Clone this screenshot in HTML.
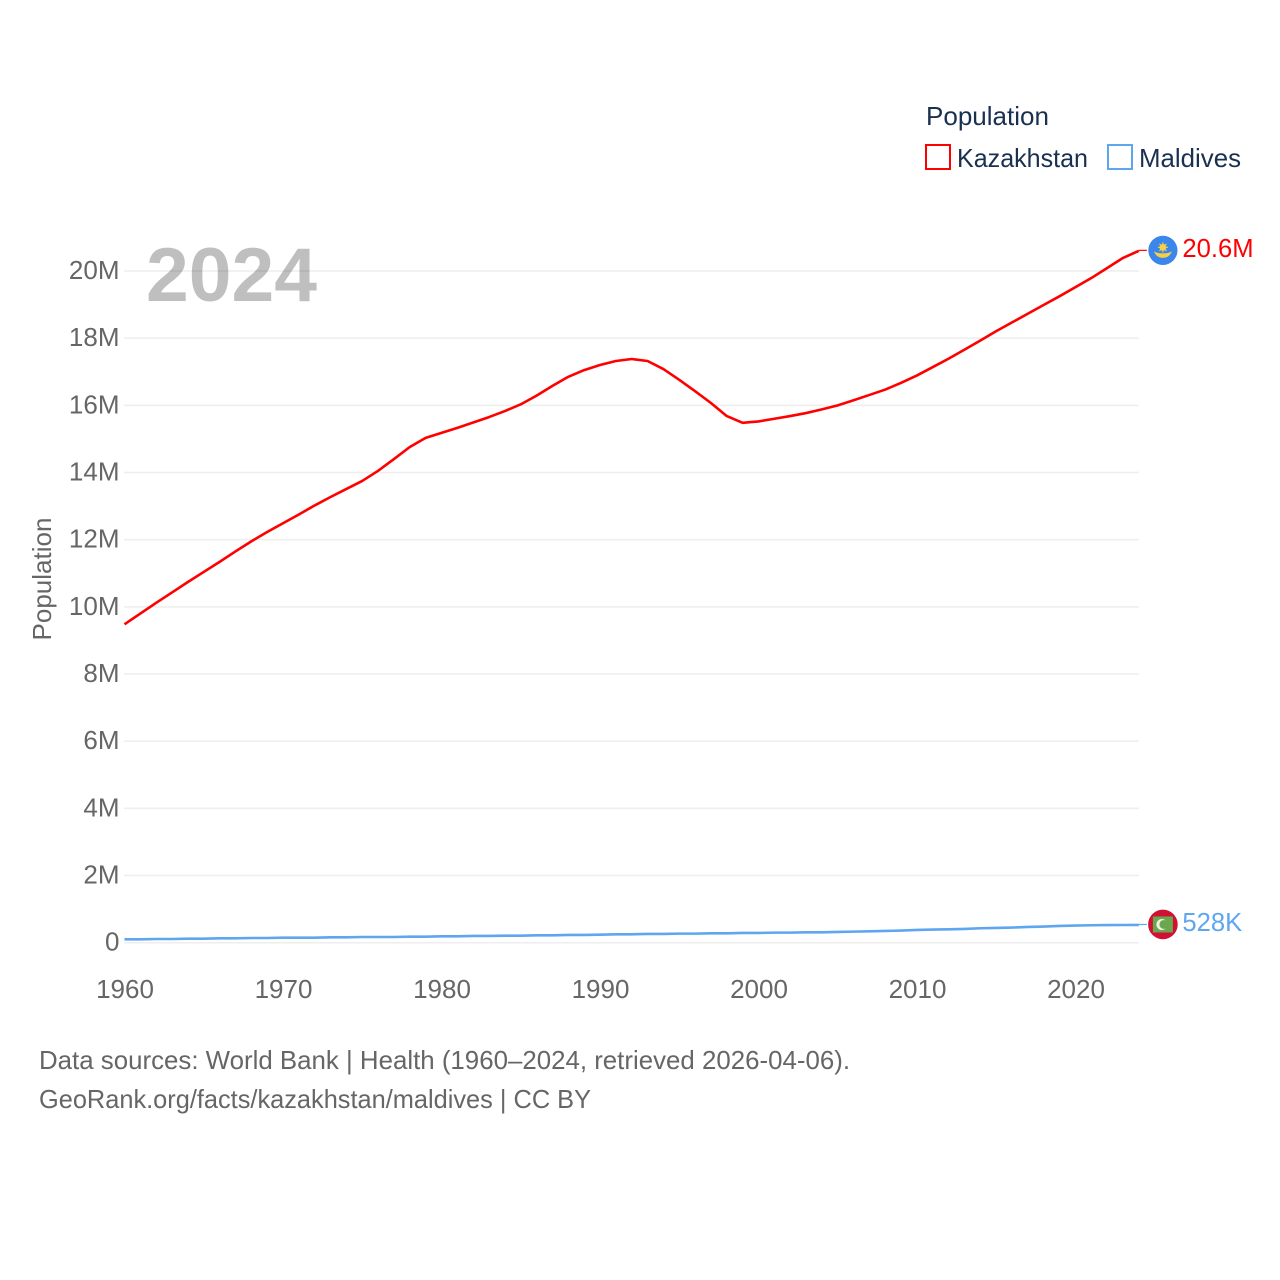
<!DOCTYPE html>
<html lang="en">
<head>
<meta charset="utf-8">
<title>Population: Kazakhstan and Maldives</title>
<style>
html,body{margin:0;padding:0;background:#fff;width:1280px;height:1280px;overflow:hidden}
svg{display:block;font-family:"Liberation Sans",sans-serif}
</style>
</head>
<body>
<svg id="chart" xmlns="http://www.w3.org/2000/svg" width="1280" height="1280" viewBox="0 0 1280 1280">
  <rect width="1280" height="1280" fill="#fff"/>
  <g id="grid"></g>
  <g id="y-ticks"></g>
  <g id="x-ticks"></g>
  <text transform="translate(51,579) rotate(-90)" text-anchor="middle" font-size="26" fill="#666" textLength="123" lengthAdjust="spacingAndGlyphs">Population</text>
  <g id="series"></g>
  <text x="146" y="301" font-size="76" font-weight="700" fill="#000" fill-opacity="0.25" textLength="171" lengthAdjust="spacingAndGlyphs">2024</text>
  <g>
    <text x="926" y="125" font-size="26" fill="#1a3050" textLength="123" lengthAdjust="spacingAndGlyphs">Population</text>
    <g>
      <rect x="926" y="145" width="24" height="24" fill="#fff" stroke="#ff0000" stroke-width="2"/>
      <text x="957" y="167" font-size="26" fill="#1a3050" textLength="131" lengthAdjust="spacingAndGlyphs">Kazakhstan</text>
    </g>
    <g>
      <rect x="1108" y="145" width="24" height="24" fill="#fff" stroke="#5ea6ee" stroke-width="2"/>
      <text x="1139" y="167" font-size="26" fill="#1a3050" textLength="102" lengthAdjust="spacingAndGlyphs">Maldives</text>
    </g>
  </g>
  <g id="flag-kazakhstan">
    <circle cx="0" cy="0" r="14.6" fill="#3a86ea"/>
    <circle cx="0" cy="-3" r="3.4" fill="#f5cf45"/>
    <path d="M0-8V2M-5-3H5M-3.5-6.5L3.5 .5M3.5-6.5L-3.5 .5" stroke="#f5cf45" stroke-width="1.1"/>
    <path d="M-9 1C-6 2.500-4 3 0 3S6 2.500 9 1C7 6 3.500 7.500 0 7.500S-7 6-9 1Z" fill="#f5cf45"/>
  </g>
  <g id="flag-maldives">
    <circle cx="0" cy="0" r="14.8" fill="#d21034"/>
    <rect x="-10" y="-8" width="20" height="16" fill="#6aa84f"/>
    <circle cx="-1" cy="0" r="5.500" fill="#eef3e4"/>
    <circle cx="1" cy="0" r="4.500" fill="#6aa84f"/>
  </g>
  <g id="end-labels"></g>
  <g>
    <text x="39" y="1069" font-size="26" fill="#666" textLength="811" lengthAdjust="spacingAndGlyphs">Data sources: World Bank | Health (1960–2024, retrieved 2026-04-06).</text>
    <text x="39" y="1108" font-size="26" fill="#666" textLength="552" lengthAdjust="spacingAndGlyphs">GeoRank.org/facts/kazakhstan/maldives | CC BY</text>
  </g>
</svg>
<script>
const startYear = 1960;
const xTickYears = [1960, 1970, 1980, 1990, 2000, 2010, 2020];
const yTickValues = [0, 2, 4, 6, 8, 10, 12, 14, 16, 18, 20];
const kazakhstanValues = [
  9.48, 9.80, 10.12, 10.43, 10.74, 11.04, 11.34, 11.65, 11.95, 12.23,
  12.49, 12.75, 13.02, 13.27, 13.51, 13.75, 14.05, 14.40, 14.76, 15.03,
  15.18, 15.33, 15.49, 15.65, 15.83, 16.03, 16.29, 16.58, 16.85, 17.05,
  17.20, 17.32, 17.38, 17.32, 17.08, 16.76, 16.42, 16.07, 15.68, 15.48,
  15.52, 15.60, 15.68, 15.77, 15.88, 16.00, 16.15, 16.31, 16.47, 16.67,
  16.89, 17.14, 17.39, 17.66, 17.93, 18.21, 18.47, 18.73, 18.99, 19.25,
  19.52, 19.79, 20.09, 20.39, 20.60
];
const maldivesValues = [
  0.10, 0.10, 0.11, 0.11, 0.12, 0.12, 0.13, 0.13, 0.14, 0.14,
  0.15, 0.15, 0.15, 0.16, 0.16, 0.17, 0.17, 0.17, 0.18, 0.18,
  0.19, 0.19, 0.20, 0.20, 0.21, 0.21, 0.22, 0.22, 0.23, 0.23,
  0.24, 0.25, 0.25, 0.26, 0.26, 0.27, 0.27, 0.28, 0.28, 0.29,
  0.29, 0.30, 0.30, 0.31, 0.31, 0.32, 0.33, 0.34, 0.35, 0.36,
  0.38, 0.39, 0.40, 0.41, 0.43, 0.44, 0.45, 0.47, 0.48, 0.50,
  0.51, 0.52, 0.525, 0.527, 0.528
];

const SVG_NS = 'http://www.w3.org/2000/svg';
function xScale(year) { return 124.5 + (year - 1960) * 15.85; }
function yScale(millions) { return 942.7 - millions * 33.585; }
function tickLabel(m) { return m === 0 ? '0' : m + 'M'; }
function endLabel(m) { return m >= 1 ? m.toFixed(1) + 'M' : Math.round(m * 1000) + 'K'; }
function make(tag, attrs) {
  const el = document.createElementNS(SVG_NS, tag);
  for (const k in attrs) el.setAttribute(k, attrs[k]);
  return el;
}
function linePoints(values) {
  return values.map(function (v, i) {
    return xScale(startYear + i).toFixed(2) + ',' + yScale(v).toFixed(2);
  }).join(' ');
}

const gridGroup = document.getElementById('grid');
const yGroup = document.getElementById('y-ticks');
yTickValues.forEach(function (v) {
  const line = make('line', { x1: 124, x2: 1139, y1: yScale(v), y2: yScale(v), stroke: '#eeeeee', 'stroke-width': 1.5 });
  
  
  gridGroup.appendChild(line);
  const label = make('text', { x: 119.5, y: yScale(v) + 8, 'text-anchor': 'end', 'font-size': 26, fill: '#666' });
  
  
  label.textContent = tickLabel(v);
  yGroup.appendChild(label);
});

const xGroup = document.getElementById('x-ticks');
xTickYears.forEach(function (year) {
  const label = make('text', { x: xScale(year) + 0.5, y: 998, 'text-anchor': 'middle', 'font-size': 26, fill: '#666' });
  
  
  label.textContent = year;
  xGroup.appendChild(label);
});

const seriesGroup = document.getElementById('series');
const endGroup = document.getElementById('end-labels');
function drawSeries(values, color, lineName, connectorName, labelName, flagId) {
  const lastY = yScale(values[values.length - 1]);
  const lastX = xScale(startYear + values.length - 1);
  const path = make('polyline', { points: linePoints(values), fill: 'none', stroke: color, 'stroke-width': 2.6, 'stroke-linejoin': 'round' });
  
  
  seriesGroup.appendChild(path);
  const connector = make('line', { x1: lastX, x2: lastX + 8, y1: lastY - 0.5, y2: lastY - 0.5, stroke: color, 'stroke-width': 1.2 });
  
  
  seriesGroup.appendChild(connector);
  document.getElementById(flagId).setAttribute('transform', 'translate(' + (lastX + 24) + ',' + (lastY - 0.5) + ')');
  const label = make('text', { x: lastX + 43.500, y: lastY + 6, 'font-size': 25.6, fill: color });
  
  
  label.textContent = endLabel(values[values.length - 1]);
  endGroup.appendChild(label);
}
drawSeries(kazakhstanValues, '#ff0000', 'line-kazakhstan', 'connector-kazakhstan', 'end-label-kazakhstan', 'flag-kazakhstan');
drawSeries(maldivesValues, '#5ea6ee', 'line-maldives', 'connector-maldives', 'end-label-maldives', 'flag-maldives');
</script>
</body>
</html>
